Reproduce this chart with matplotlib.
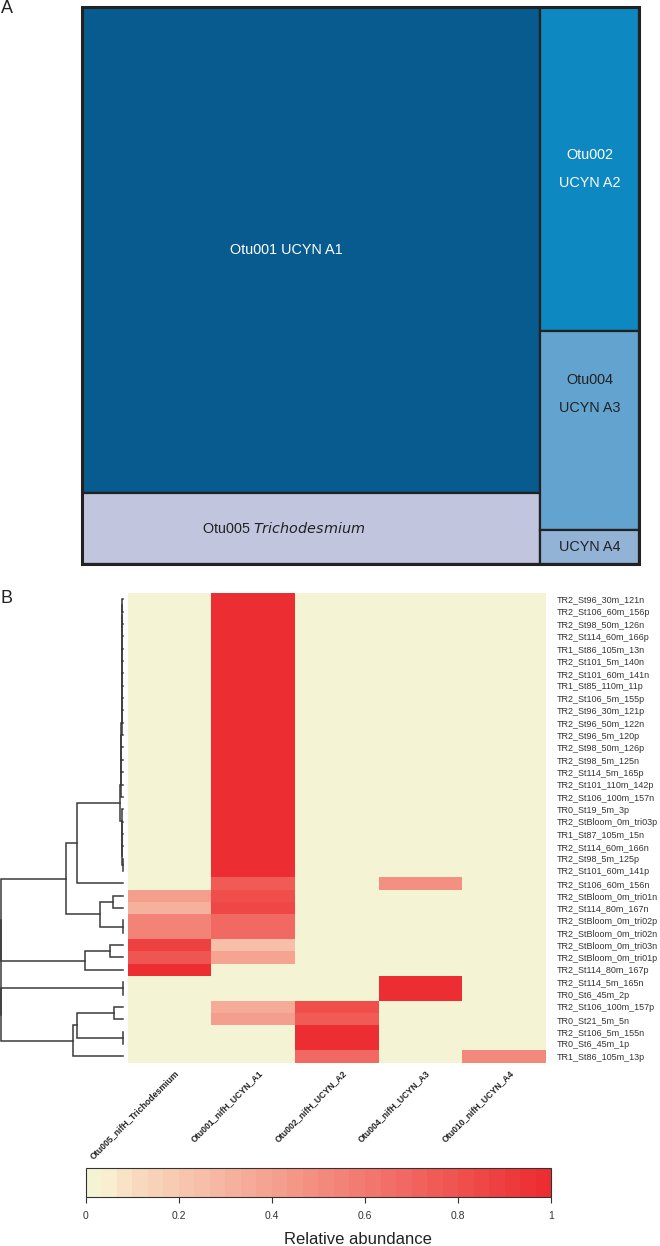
import numpy as np
import matplotlib
matplotlib.use("Agg")
import matplotlib.pyplot as plt
from matplotlib.patches import Rectangle
from matplotlib.colors import LinearSegmentedColormap, ListedColormap, Normalize
from matplotlib.cm import ScalarMappable
import matplotlib.transforms as mtransforms

plt.rcParams['font.family'] = ['Liberation Sans', 'DejaVu Sans']

# ---------------- Panel A: treemap data ----------------
tm_names = ["Otu001 UCYN A1", "Otu005 Trichodesmium", "Otu002 UCYN A2", "Otu004 UCYN A3", "UCYN A4"]
tm_values = [71.7, 10.5, 10.4, 6.4, 1.1]
tm_column = [0, 0, 1, 1, 1]
tm_colors = ["#085B8F", "#C1C6DE", "#0E88C0", "#62A3CF", "#92B2D6"]
tm_textcolors = ["white", "#222222", "white", "#222222", "#222222"]

# ---------------- Panel B: heatmap data ----------------
otus = ["Otu005_nifH_Trichodesmium", "Otu001_nifH_UCYN_A1", "Otu002_nifH_UCYN_A2",
        "Otu004_nifH_UCYN_A3", "Otu010_nifH_UCYN_A4"]
samples = ["TR2_St96_30m_121n", "TR2_St106_60m_156p", "TR2_St98_50m_126n", "TR2_St114_60m_166p",
           "TR1_St86_105m_13n", "TR2_St101_5m_140n", "TR2_St101_60m_141n", "TR1_St85_110m_11p",
           "TR2_St106_5m_155p", "TR2_St96_30m_121p", "TR2_St96_50m_122n", "TR2_St96_5m_120p",
           "TR2_St98_50m_126p", "TR2_St98_5m_125n", "TR2_St114_5m_165p", "TR2_St101_110m_142p",
           "TR2_St106_100m_157n", "TR0_St19_5m_3p", "TR2_StBloom_0m_tri03p", "TR1_St87_105m_15n",
           "TR2_St114_60m_166n", "TR2_St98_5m_125p", "TR2_St101_60m_141p", "TR2_St106_60m_156n",
           "TR2_StBloom_0m_tri01n", "TR2_St114_80m_167n", "TR2_StBloom_0m_tri02p", "TR2_StBloom_0m_tri02n",
           "TR2_StBloom_0m_tri03n", "TR2_StBloom_0m_tri01p", "TR2_St114_80m_167p", "TR2_St114_5m_165n",
           "TR0_St6_45m_2p", "TR2_St106_100m_157p", "TR0_St21_5m_5n", "TR2_St106_5m_155n",
           "TR0_St6_45m_1p", "TR1_St86_105m_13p"]

ab_tricho = [0, 0, 0, 0, 0, 0, 0, 0, 0, 0, 0, 0, 0, 0, 0, 0, 0, 0, 0, 0, 0, 0, 0, 0,
             0.42, 0.33, 0.55, 0.55, 0.89, 0.79, 1.0, 0, 0, 0, 0, 0, 0, 0]
ab_a1 = [1, 1, 1, 1, 1, 1, 1, 1, 1, 1, 1, 1, 1, 1, 1, 1, 1, 1, 1, 1, 1, 1, 1, 0.75,
         0.81, 0.86, 0.67, 0.67, 0.24, 0.38, 0, 0, 0, 0.34, 0.43, 0, 0, 0]
ab_a2 = [0, 0, 0, 0, 0, 0, 0, 0, 0, 0, 0, 0, 0, 0, 0, 0, 0, 0, 0, 0, 0, 0, 0, 0,
         0, 0, 0, 0, 0, 0, 0, 0, 0, 0.81, 0.76, 1.0, 1.0, 0.69]
ab_a3 = [0, 0, 0, 0, 0, 0, 0, 0, 0, 0, 0, 0, 0, 0, 0, 0, 0, 0, 0, 0, 0, 0, 0, 0.47,
         0, 0, 0, 0, 0, 0, 0, 1.0, 1.0, 0, 0, 0, 0, 0]
ab_a4 = [0, 0, 0, 0, 0, 0, 0, 0, 0, 0, 0, 0, 0, 0, 0, 0, 0, 0, 0, 0, 0, 0, 0, 0,
         0, 0, 0, 0, 0, 0, 0, 0, 0, 0, 0, 0, 0, 0.51]

# dendrogram merges (leaf ids 0..37 in display order; merge k gets id 38+k)
merge_left = [0, 38, 39, 40, 41, 42, 43, 44, 45, 46, 47, 48, 49, 50, 51, 52,
              22, 54, 55, 56, 57,
              53, 59, 24, 26, 61, 60, 28, 65, 64, 31, 33, 35, 69, 71, 68, 67]
merge_right = [1, 2, 3, 4, 5, 6, 7, 8, 9, 10, 11, 12, 13, 14, 15, 16,
               21, 20, 19, 18, 17,
               58, 23, 25, 27, 62, 63, 29, 30, 66, 32, 34, 36, 70, 37, 72, 73]
merge_height = [0.3, 0.4, 0.5, 0.5, 0.6, 0.7, 0.8, 0.9, 1.0, 1.1, 1.2, 1.3, 1.4, 1.6, 1.8, 2.1,
                0.2, 0.4, 0.6, 0.8, 1.0,
                2.7, 46.0, 9.4, 0.2, 22.4, 56.7, 12.7, 37.7, 121.5, 0.2, 8.4, 0.2, 46.0, 50.0,
                121.5, 122.2]

cmap_nodes = [0.0, 0.05, 0.1, 1.0]
cmap_cols = ["#F2F6D8", "#F9EFD0", "#F9DCC0", "#EC2A2E"]
n_levels = 30

# ---------------- figure ----------------
W, H = 660, 1246
fig = plt.figure(figsize=(W / 100, H / 100), dpi=100)


def ax_px(x0, y0, x1, y1):
    return fig.add_axes([x0 / W, 1 - y1 / H, (x1 - x0) / W, (y1 - y0) / H])


# Panel A
tax = ax_px(81.7, 7.3, 639.3, 564.0)
tax.set_xlim(0, 1)
tax.set_ylim(1, 0)
tax.axis('off')
total = sum(tm_values)
col_tot = [sum(v for v, c in zip(tm_values, tm_column) if c == k) for k in (0, 1)]
col_x = [0.0, col_tot[0] / total]
col_w = [col_tot[0] / total, col_tot[1] / total]
ycur = [0.0, 0.0]
rects = []
for name, v, c, fc in zip(tm_names, tm_values, tm_column, tm_colors):
    h = v / col_tot[c]
    r = Rectangle((col_x[c], ycur[c]), col_w[c], h, facecolor=fc, edgecolor="#222222", lw=1.6)
    tax.add_patch(r)
    rects.append((col_x[c], ycur[c], col_w[c], h))
    ycur[c] += h
tax.add_patch(Rectangle((0, 0), 1, 1, facecolor='none', edgecolor="#222222", lw=2.2, clip_on=False))

fs_tm = 10.4
# A1
x, y, w, h = rects[0]
tax.text(x + 0.446 * w, y + h / 2, "Otu001 UCYN A1", color=tm_textcolors[0], fontsize=fs_tm,
         ha='center', va='center')
# Trichodesmium
x, y, w, h = rects[1]
tax.text(x + 0.44 * w, y + h / 2, "Otu005 $\\it{Trichodesmium}$", color=tm_textcolors[1],
         fontsize=fs_tm, ha='center', va='center')
# A2
x, y, w, h = rects[2]
dy = 13.7 / 556.7
tax.text(x + w / 2, y + h / 2 - dy, "Otu002", color=tm_textcolors[2], fontsize=fs_tm, ha='center', va='center')
tax.text(x + w / 2, y + h / 2 + dy, "UCYN A2", color=tm_textcolors[2], fontsize=fs_tm, ha='center', va='center')
# A3
x, y, w, h = rects[3]
yc = y + 0.318 * h
tax.text(x + w / 2, yc - dy, "Otu004", color=tm_textcolors[3], fontsize=fs_tm, ha='center', va='center')
tax.text(x + w / 2, yc + dy, "UCYN A3", color=tm_textcolors[3], fontsize=fs_tm, ha='center', va='center')
# A4
x, y, w, h = rects[4]
tax.text(x + w / 2, y + h / 2, "UCYN A4", color=tm_textcolors[4], fontsize=fs_tm, ha='center', va='center')

fig.text(1 / W, 1 - 8.5 / H, "A", fontsize=13, color="#222222", ha='left', va='center')
fig.text(0 / W, 1 - 598.5 / H, "B", fontsize=13, color="#222222", ha='left', va='center')

# colormap
base = LinearSegmentedColormap.from_list("ra", list(zip(cmap_nodes, cmap_cols)))
cmap = ListedColormap(base((np.arange(n_levels) + 0.5) / n_levels))

# Panel B heatmap
mat = np.array([ab_tricho, ab_a1, ab_a2, ab_a3, ab_a4]).T
nr, nc = mat.shape
hax = ax_px(127.7, 593.0, 546.0, 1062.5)
hax.pcolormesh(np.arange(nc + 1), np.arange(nr + 1), mat, cmap=cmap, vmin=0, vmax=1,
               edgecolors='none', linewidth=0)
hax.set_xlim(0, nc)
hax.set_ylim(nr, 0)
for s in hax.spines.values():
    s.set_visible(False)
hax.yaxis.tick_right()
hax.set_yticks(np.arange(nr) + 0.5)
hax.set_yticklabels(samples, fontsize=6.5, color="#333333")
hax.tick_params(axis='y', length=0, pad=8.0)
hax.set_xticks([])
off = mtransforms.ScaledTranslation(5 / 100, -6 / 100, fig.dpi_scale_trans)
for j, lab in enumerate(otus):
    hax.text(j + 0.5, nr, lab, rotation=45, ha='right', va='top', rotation_mode='anchor',
             fontsize=6.3, fontweight='bold', color="#222222", transform=hax.transData + off)

# dendrogram
dax = ax_px(0.5, 593.0, 122.7, 1062.5)
dax.set_ylim(nr, 0)
dax.set_xlim(max(merge_height), 0)
dax.axis('off')
pos = {i: (i + 0.5, 0.0) for i in range(nr)}
for k, (a, b, hgt) in enumerate(zip(merge_left, merge_right, merge_height)):
    ya, ha_ = pos[a]
    yb, hb = pos[b]
    dax.plot([ha_, hgt, hgt, hb], [ya, ya, yb, yb], color="#3A3A3A", lw=1.1,
             solid_joinstyle='miter', clip_on=False)
    pos[nr + k] = ((ya + yb) / 2, hgt)

# colorbar
cax = ax_px(85.7, 1168.0, 551.2, 1197.0)
cb = fig.colorbar(ScalarMappable(norm=Normalize(0, 1), cmap=cmap), cax=cax, orientation='horizontal')
cb.set_ticks([0, 0.2, 0.4, 0.6, 0.8, 1.0])
cb.set_ticklabels(["0", "0.2", "0.4", "0.6", "0.8", "1"])
cb.outline.set_edgecolor("#333333")
cb.outline.set_linewidth(0.8)
cax.tick_params(axis='x', length=4, width=0.8, color="#333333", labelsize=7.5,
                labelcolor="#333333", pad=6)
fig.text(358 / W, 1 - 1244 / H, "Relative abundance", fontsize=12, color="#222222",
         ha='center', va='baseline')

fig.savefig("out.png", dpi=100)
